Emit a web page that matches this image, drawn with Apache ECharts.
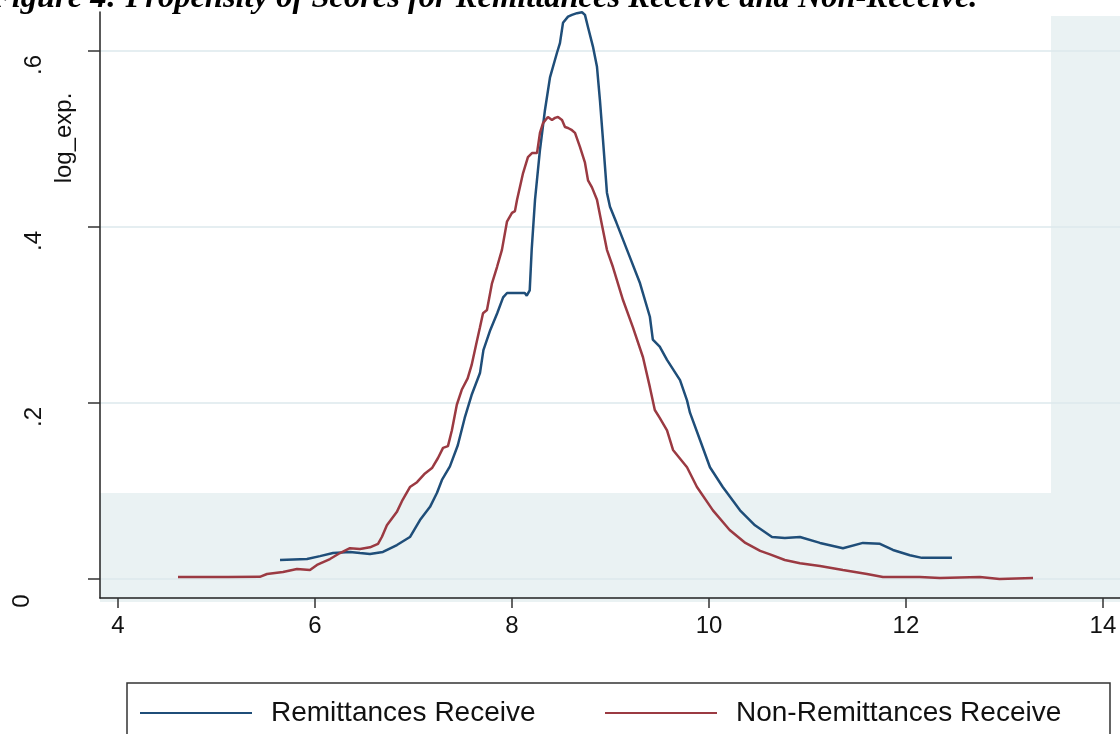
<!DOCTYPE html>
<html>
<head>
<meta charset="utf-8">
<script src="https://cdn.jsdelivr.net/npm/echarts@6/dist/echarts.min.js"></script>
<style>
  html, body { margin: 0; padding: 0; background: #fff; }
  #chart { width: 1120px; height: 734px; }
</style>
</head>
<body>
<div id="chart"></div>
<script>
// propensity score (x) vs log_exp. (y)
const remitX = [5.645,5.919,6.051,6.183,6.355,6.457,6.558,6.690,6.832,6.964,7.066,7.168,7.239,7.289,7.37,7.45,7.52,7.59,7.675,7.71,7.78,7.85,7.91,7.95,8.13,8.15,8.18,8.20,8.234,8.284,8.335,8.386,8.457,8.487,8.518,8.569,8.609,8.619,8.66,8.711,8.741,8.772,8.822,8.863,8.893,8.924,8.964,8.995,9.06,9.168,9.30,9.40,9.43,9.50,9.574,9.706,9.777,9.807,9.909,10.01,10.14,10.315,10.467,10.64,10.77,10.924,11.127,11.36,11.563,11.736,11.868,12.04,12.162,12.467];
const remitY = [0.0216,0.0227,0.026,0.0295,0.0307,0.0295,0.0284,0.0307,0.0386,0.0477,0.067,0.082,0.098,0.1125,0.128,0.152,0.183,0.209,0.234,0.260,0.283,0.302,0.320,0.325,0.325,0.322,0.328,0.374,0.431,0.4875,0.533,0.570,0.598,0.609,0.632,0.639,0.641,0.639,0.643,0.644,0.641,0.627,0.605,0.582,0.544,0.499,0.439,0.423,0.405,0.374,0.336,0.298,0.272,0.264,0.249,0.226,0.203,0.189,0.158,0.127,0.1045,0.078,0.061,0.0477,0.0466,0.0477,0.041,0.035,0.041,0.040,0.033,0.027,0.024,0.024];

const nonX = [4.609,5.117,5.44,5.513,5.675,5.817,5.949,6.02,6.152,6.254,6.355,6.457,6.558,6.64,6.68,6.73,6.83,6.89,6.964,7.036,7.117,7.188,7.249,7.30,7.35,7.39,7.44,7.49,7.55,7.59,7.635,7.675,7.706,7.746,7.797,7.848,7.898,7.949,8.0,8.03,8.051,8.112,8.162,8.203,8.254,8.284,8.315,8.365,8.406,8.437,8.467,8.508,8.538,8.569,8.609,8.64,8.69,8.741,8.772,8.812,8.863,8.914,8.964,9.025,9.127,9.228,9.33,9.40,9.45,9.50,9.574,9.635,9.777,9.878,10.04,10.21,10.37,10.52,10.62,10.77,10.924,11.127,11.36,11.604,11.766,12.14,12.345,12.75,12.95,13.29];
const nonY = [0.0023,0.0023,0.0025,0.0057,0.008,0.0114,0.0102,0.016,0.0227,0.0295,0.035,0.034,0.036,0.040,0.048,0.061,0.076,0.090,0.1045,0.110,0.120,0.126,0.1375,0.149,0.151,0.169,0.198,0.215,0.228,0.243,0.266,0.286,0.302,0.3057,0.336,0.3545,0.374,0.406,0.416,0.418,0.4307,0.461,0.4795,0.484,0.484,0.507,0.518,0.525,0.5216,0.524,0.525,0.5216,0.5136,0.5125,0.510,0.507,0.491,0.473,0.453,0.445,0.431,0.402,0.374,0.3545,0.317,0.286,0.252,0.218,0.192,0.183,0.169,0.1466,0.127,0.1045,0.078,0.0557,0.041,0.032,0.028,0.0216,0.018,0.0148,0.0102,0.0057,0.0023,0.0023,0.0011,0.0023,0.0,0.001];

const xTicks = [4, 6, 8, 10, 12, 14];
const yTicks = [0, 0.2, 0.4, 0.6];
const yTickLabels = ['0', '.2', '.4', '.6'];
const seriesNames = ['Remittances Receive', 'Non-Remittances Receive'];

const sans = "'Liberation Sans', Arial, sans-serif";
const zip = (xs, ys) => xs.map((x, i) => [x, ys[i]]);

const legendText = { fontSize: 28, fontFamily: sans, color: '#111', lineHeight: 32, padding: [0, 0, 0, 14] };

const chart = echarts.init(document.getElementById('chart'));
chart.setOption({
  animation: false,
  backgroundColor: '#fff',
  grid: { left: 100, top: 12, right: 0, bottom: 136 },
  xAxis: {
    type: 'value',
    min: 3.8173, max: 14.173,
    axisLine: { show: true, onZero: false, lineStyle: { color: '#222', width: 1.5 } },
    axisTick: { show: true, length: 10, customValues: xTicks, lineStyle: { color: '#333', width: 1.5 } },
    axisLabel: { customValues: xTicks, margin: 16, fontSize: 24, color: '#111', fontFamily: sans },
    splitLine: { show: false }
  },
  yAxis: {
    type: 'value',
    min: -0.0216, max: 0.6443,
    axisLine: { show: true, onZero: false, lineStyle: { color: '#222', width: 1.5 } },
    axisTick: { show: true, length: 12, customValues: yTicks, lineStyle: { color: '#333', width: 1.5 } },
    axisLabel: {
      customValues: yTicks, rotate: 90, margin: 54, fontSize: 24, color: '#111', fontFamily: sans,
      padding: [0, 28, 0, 0],
      formatter: v => {
        const lab = yTickLabels[yTicks.indexOf(Math.round(v * 10) / 10)];
        return v === 0 ? '{z|' + lab + '}' : lab;
      },
      rich: { z: { fontSize: 24, fontFamily: sans, color: '#111', padding: [0, 16, 12, 0] } }
    },
    splitLine: { show: true, lineStyle: { color: '#dde8ec', width: 1.5 } }
  },
  legend: [
    { data: [seriesNames[0]], left: 140, top: 697, padding: 0, icon: 'rect', itemWidth: 112, itemHeight: 2, textStyle: legendText },
    { data: [seriesNames[1]], left: 605, top: 697, padding: 0, icon: 'rect', itemWidth: 112, itemHeight: 2, textStyle: legendText }
  ],
  graphic: [
    { type: 'rect', z: -10, silent: true, shape: { x: 100, y: 16, width: 1020, height: 586 }, style: { fill: '#eaf2f3' } },
    { type: 'rect', z: -9, silent: true, shape: { x: 100, y: 16, width: 951, height: 477 }, style: { fill: '#fff' } },
    { type: 'rect', silent: true, shape: { x: 127, y: 683, width: 983, height: 100 }, style: { fill: 'none', stroke: '#333', lineWidth: 1.5 } },
    { type: 'text', silent: true, x: -10, y: 15,
      style: { text: 'Figure 4: Propensity of Scores for Remittances Receive and Non-Receive.', fill: '#000',
        font: "italic bold 32.5px 'Liberation Serif', 'Times New Roman', serif", verticalAlign: 'bottom' } },
    { type: 'text', silent: true, x: 64, y: 138, rotation: Math.PI / 2,
      style: { text: 'log_exp.', fill: '#111', font: "24px 'Liberation Sans', Arial, sans-serif", align: 'center', verticalAlign: 'middle' } }
  ],
  series: [
    { name: seriesNames[0], type: 'line', data: zip(remitX, remitY), symbol: 'none', color: '#1f4e79',
      lineStyle: { width: 2.5, color: '#1f4e79' } },
    { name: seriesNames[1], type: 'line', data: zip(nonX, nonY), symbol: 'none', color: '#9b3a42',
      lineStyle: { width: 2.5, color: '#9b3a42' } }
  ]
});
</script>
</body>
</html>
